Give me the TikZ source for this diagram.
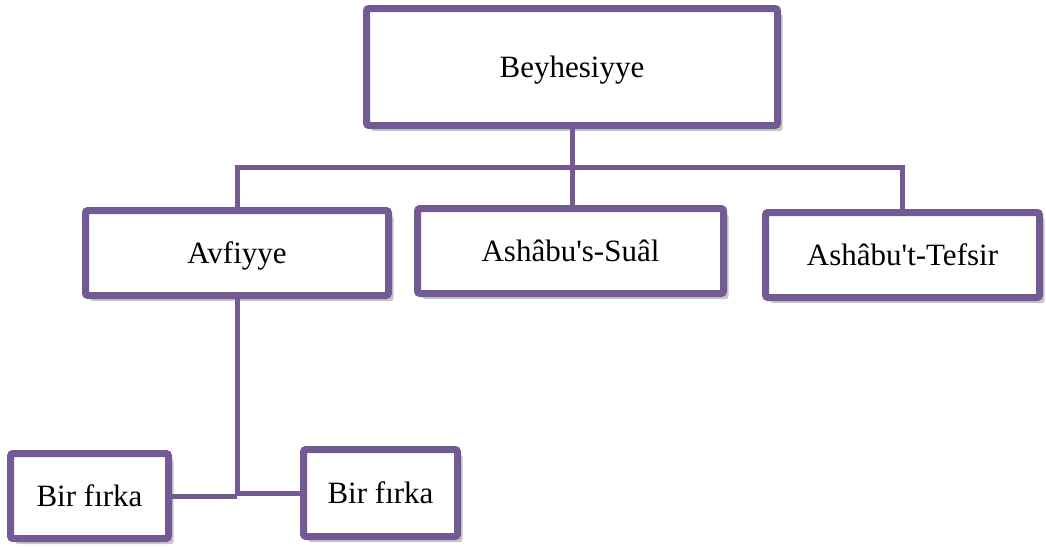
\documentclass[tikz,border=0pt]{standalone}
\usepackage{fontspec}
\setmainfont{Liberation Serif}
\usetikzlibrary{shadows}
\definecolor{plum}{RGB}{116,90,148}
\newcommand{\apos}{\textquotesingle}
\begin{document}
\begin{tikzpicture}[x=1pt,y=-1pt,
  box/.style={draw=plum, line width=7pt, rounded corners=2.5pt, fill=white,
    font=\fontsize{31}{36}\selectfont, inner sep=0pt,
    drop shadow={shadow xshift=5pt, shadow yshift=-5.5pt, opacity=0.22, fill=black}},
  conn/.style={draw=plum, line width=5pt}]
  \useasboundingbox (0,0) rectangle (1046,546);

  % Root
  \node[box, minimum width=411pt, minimum height=117pt, text depth=-5pt] (beyh) at (572,67) {Beyhesiyye};

  % Branches
  \node[box, minimum width=303pt, minimum height=85pt, text depth=-4pt] (avf) at (237,253) {Avfiyye};
  \node[box, minimum width=306pt, minimum height=85pt] (sual) at (570.5,251) {Ashâbu\apos s-Suâl};
  \node[box, minimum width=274pt, minimum height=85pt] (tefs) at (902.5,255) {Ashâbu\apos t-Tefsir};

  % Sub-branches of Avfiyye
  \node[box, minimum width=158pt, minimum height=85pt] (firkaA) at (89.5,496) {Bir fırka};
  \node[box, minimum width=154pt, minimum height=87pt] (firkaB) at (380.5,493) {Bir fırka};

  % Connectors
  \coordinate (bus) at (572,167);
  \draw[conn] (beyh.south) -- (bus);
  \draw[conn] (avf.north) |- (bus) -| (tefs.north);
  \draw[conn] (bus) -- (bus |- sual.north);
  \draw[conn] (avf.south) -- (avf.south |- firkaA.east);
  \draw[conn] (firkaA.east) -- (firkaA.east -| avf.south);
  \draw[conn] (firkaB.west) -- (firkaB.west -| avf.south);
\end{tikzpicture}
\end{document}
